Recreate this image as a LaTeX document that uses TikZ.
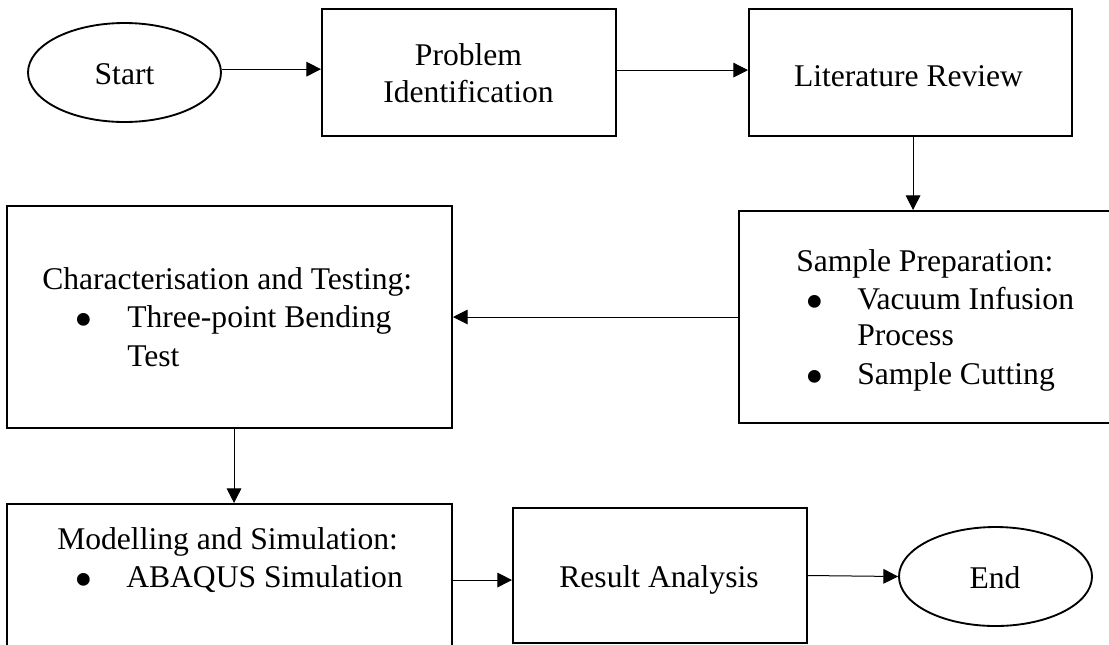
\documentclass[tikz,border=0pt]{standalone}
\usepackage{fontspec}
\setmainfont{Liberation Serif}
\usetikzlibrary{shapes.geometric,arrows.meta}
\begin{document}
\begin{tikzpicture}[x=0.75pt,y=-0.75pt,
  box/.style={draw=black,line width=1.5pt,rectangle,inner sep=0pt},
  oval/.style={draw=black,line width=1.4pt,ellipse,inner sep=0pt,minimum width=144.75pt,minimum height=74.25pt},
  txt/.style={inner sep=0pt,font=\fontsize{23.7}{28}\selectfont},
  bul/.style={inner sep=0pt,anchor=base,yshift=-8pt,font=\fontsize{40}{40}\selectfont},
  conn/.style={line width=0.75pt,-{Triangle[length=11pt,width=11pt]}}]
\useasboundingbox (0,0) rectangle (1109,644);
\clip (0,0) rectangle (1109,644);
% shapes
\node[oval] (start) at (124.5,72.5) {};
\node[box,minimum width=220.5pt,minimum height=95.25pt] (prob) at (469,72.5) {};
\node[box,minimum width=242.25pt,minimum height=95.25pt] (lit) at (910.5,72.5) {};
\node[box,minimum width=293.25pt,minimum height=159pt] (prep) at (934.5,317) {};
\node[box,minimum width=333.75pt,minimum height=166.5pt] (char) at (229.5,317) {};
\node[box,minimum width=333.75pt,minimum height=139.5pt] (model) at (229.5,597) {};
\node[box,minimum width=220.5pt,minimum height=101.25pt] (result) at (660,575.5) {};
\node[oval] (end) at (995.5,576.5) {};
% texts
\node[txt,anchor=base] (tstart) at (124.5,84) {Start};
\node[txt,anchor=base] (tprob1) at (468.5,65) {Problem};
\node[txt,anchor=base] (tprob2) at (468.5,102) {Identification};
\node[txt,anchor=base] (tlit) at (908.5,86) {Literature Review};
\node[txt,anchor=base west] (tprep) at (796,271) {Sample Preparation:};
\node[bul] (bprep1) at (815,309) {•};
\node[txt,anchor=base west] (tprep1) at (857,309) {Vacuum Infusion};
\node[txt,anchor=base west] (tprep2) at (857,345) {Process};
\node[bul] (bprep2) at (815,384) {•};
\node[txt,anchor=base west] (tprep3) at (857,384) {Sample Cutting};
\node[txt,anchor=base west] (tchar) at (42,289) {Characterisation and Testing:};
\node[bul] (bchar) at (84,327) {•};
\node[txt,anchor=base west] (tchar1) at (127,327) {Three-point Bending};
\node[txt,anchor=base west] (tchar2) at (127,366) {Test};
\node[txt,anchor=base west] (tmodel) at (57,549) {Modelling and Simulation:};
\node[bul] (bmodel) at (84,587) {•};
\node[txt,anchor=base west] (tmodel1) at (126,587) {ABAQUS Simulation};
\node[txt,anchor=base] (tresult) at (659,587) {Result Analysis};
\node[txt,anchor=base] (tend) at (995,588) {End};
% connectors
\draw[conn] ([yshift=2.5pt]start.east) -- ([yshift=2.5pt]start.east -| prob.west);
\draw[conn] ([yshift=1.8pt]prob.east) -- ([yshift=1.8pt]prob.east -| lit.west);
\draw[conn] ([xshift=1.9pt]lit.south) -- ([xshift=1.9pt]lit.south |- prep.north);
\draw[conn] (prep.west) -- (prep.west -| char.east);
\draw[conn] ([xshift=3.4pt]char.south) -- ([xshift=3.4pt]char.south |- model.north);
\draw[conn] ([yshift=-3.4pt]model.east |- result.west) -- ([yshift=-3.4pt]result.west);
\draw[conn] (result.east) -- (end.west);
\end{tikzpicture}
\end{document}
